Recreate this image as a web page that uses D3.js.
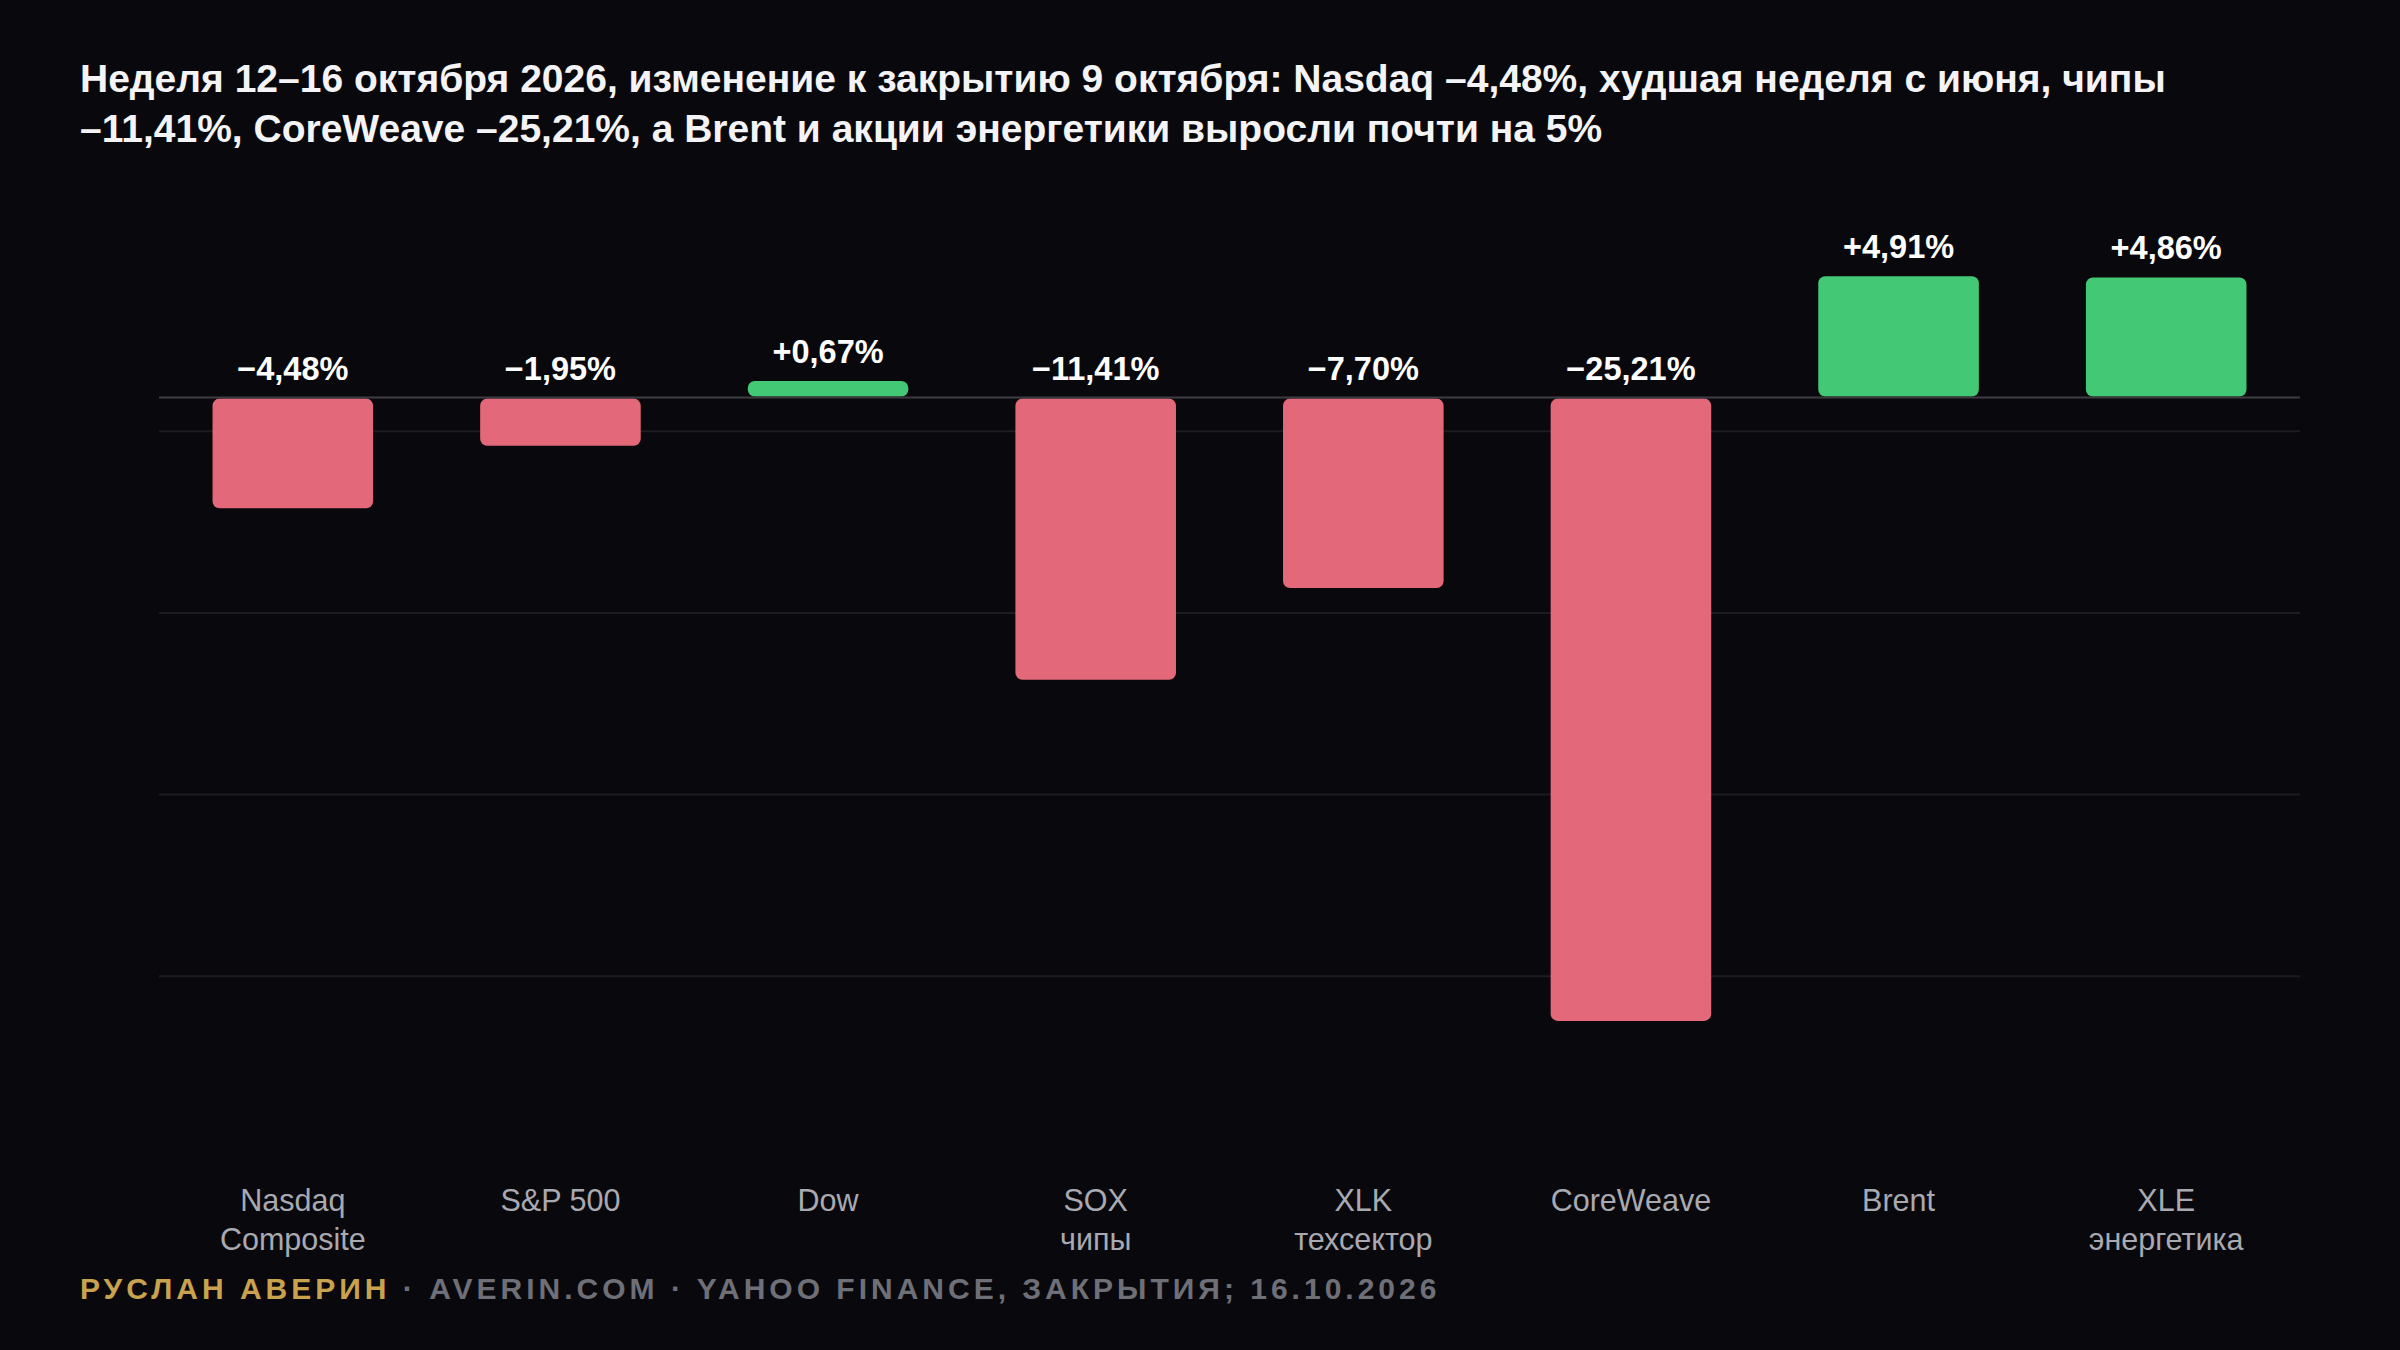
<!DOCTYPE html>
<html lang="ru">
<head>
<meta charset="UTF-8">
<script src="https://cdn.jsdelivr.net/npm/d3@7"></script>
<style>
  html, body { margin: 0; padding: 0; background: #09090d; }
  svg { display: block; }
  text { font-family: "Liberation Sans", Arial, Helvetica, sans-serif; }
  .title { fill: #f4f4f6; font-size: 39px; font-weight: bold; }
  .val { fill: #ffffff; font-size: 32.5px; font-weight: bold; }
  .cat text { fill: #a9a9b1; font-size: 30.5px; }
  .foot { font-size: 30px; font-weight: bold; letter-spacing: 4px; }
</style>
</head>
<body>
<script>
// данные
var categories = ["Nasdaq\nComposite", "S&P 500", "Dow", "SOX\nчипы", "XLK\nтехсектор", "CoreWeave", "Brent", "XLE\nэнергетика"];
var values = [-4.48, -1.95, 0.67, -11.41, -7.70, -25.21, 4.91, 4.86];
var titleLines = [
  "Неделя 12–16 октября 2026, изменение к закрытию 9 октября: Nasdaq –4,48%, худшая неделя с июня, чипы",
  "–11,41%, CoreWeave –25,21%, а Brent и акции энергетики выросли почти на 5%"
];
var footAuthor = "РУСЛАН АВЕРИН";
var footRest = " · AVERIN.COM · YAHOO FINANCE, ЗАКРЫТИЯ; 16.10.2026";

var width = 2400, height = 1350;
var red = "#e3687a", green = "#43c976";

var svg = d3.select("body").append("svg")
  .attr("width", width).attr("height", height);

svg.append("rect").attr("width", width).attr("height", height).attr("fill", "#09090d");

// заголовок
svg.append("g").selectAll("text")
  .data(titleLines)
  .join("text")
  .attr("class", "title")
  .attr("x", 80)
  .attr("y", function(d, i) { return 92 + i * 50; })
  .text(function(d) { return d; });

var lo = d3.min(values) * 1.22, hi = d3.max(values) * 1.22;

var x = d3.scaleBand().domain(categories)
  .range([159, 2300]).paddingInner(0.4).paddingOuter(0.2);
var y = d3.scaleLinear().domain([lo, hi]).range([1158, 249.5]);

var loc = d3.formatLocale({decimal: ",", thousands: " ", grouping: [3], currency: ["", ""], minus: "\u2212"});
var fmt = loc.format("+.2f");

// сетка
var grid = d3.range(1, 5).map(function(i) { return lo + (hi - lo) * i / 5; });
svg.append("g").selectAll("line")
  .data(grid)
  .join("line")
  .attr("x1", 159).attr("x2", 2300)
  .attr("y1", function(d) { return y(d); })
  .attr("y2", function(d) { return y(d); })
  .attr("stroke", "#1c1c21").attr("stroke-width", 2);

// столбики
svg.append("g").selectAll("rect")
  .data(values)
  .join("rect")
  .attr("x", function(d, i) { return x(categories[i]); })
  .attr("width", x.bandwidth())
  .attr("y", function(d) { return d < 0 ? y(0) + 1 : y(d); })
  .attr("height", function(d) { return Math.abs(y(d) - y(0)) - 1; })
  .attr("rx", 7)
  .attr("fill", function(d) { return d < 0 ? red : green; });

// нулевая линия
svg.append("line")
  .attr("x1", 159).attr("x2", 2300)
  .attr("y1", y(0)).attr("y2", y(0))
  .attr("stroke", "#3c3c42").attr("stroke-width", 2);

// подписи значений
svg.append("g").selectAll("text")
  .data(values)
  .join("text")
  .attr("class", "val")
  .attr("text-anchor", "middle")
  .attr("x", function(d, i) { return x(categories[i]) + x.bandwidth() / 2; })
  .attr("y", function(d) { return Math.min(y(d), y(0)) - 18; })
  .text(function(d) { return fmt(d) + "%"; });

// ось категорий
var axis = svg.append("g")
  .attr("class", "cat")
  .attr("transform", "translate(0,1158)")
  .call(d3.axisBottom(x).tickSize(0).tickPadding(0));
axis.select(".domain").remove();
axis.selectAll(".tick text")
  .attr("dy", null).attr("y", 53)
  .each(function(d) {
    var t = d3.select(this);
    t.text(null);
    d.split("\n").forEach(function(s, j) {
      t.append("tspan").attr("x", 0).attr("dy", j ? 39 : 0).text(s);
    });
  });

// подвал
var foot = svg.append("text").attr("class", "foot").attr("x", 80).attr("y", 1299);
foot.append("tspan").attr("fill", "#c9a24e").text(footAuthor);
foot.append("tspan").attr("fill", "#6f6f78").text(footRest);
</script>
</body>
</html>
